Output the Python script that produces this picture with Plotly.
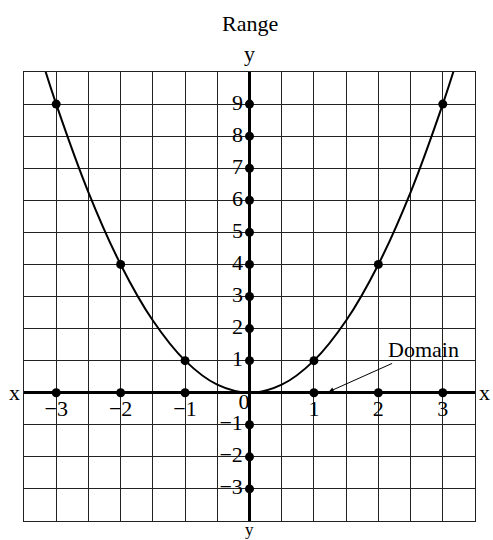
import plotly.graph_objects as go

curve_x = [-3.25, -3, -2.5, -2, -1.5, -1, -0.5, 0, 0.5, 1, 1.5, 2, 2.5, 3, 3.25]
curve_y = [10.56, 9, 6.25, 4, 2.25, 1, 0.25, 0, 0.25, 1, 2.25, 4, 6.25, 9, 10.56]

# Plotted points on the parabola
pt_x = [-3, -2, -1, 1, 2, 3]
pt_y = [9, 4, 1, 1, 4, 9]

# Domain points on the x axis
dom_x = [-3, -2, -1, 1, 2, 3]
dom_labels = ["\u22123", "\u22122", "\u22121", "1", "2", "3"]

# Range points on the y axis
rng_y = [9, 8, 7, 6, 5, 4, 3, 2, 1, -1, -2, -3]
rng_labels = ["9", "8", "7", "6", "5", "4", "3", "2", "1", "\u22121", "\u22122", "\u22123"]

FONT = "Liberation Serif"
FS = 22

fig = go.Figure()

fig.add_trace(go.Scatter(x=curve_x, y=curve_y, mode="lines",
                         line=dict(color="black", width=2, shape="spline", smoothing=1.0),
                         hoverinfo="skip"))
fig.add_trace(go.Scatter(x=pt_x, y=pt_y, mode="markers",
                         marker=dict(color="black", size=9)))
fig.add_trace(go.Scatter(x=dom_x, y=[0] * len(dom_x), mode="markers+text",
                         text=dom_labels, textposition="bottom center",
                         textfont=dict(family=FONT, size=FS, color="black"),
                         marker=dict(color="black", size=9)))
fig.add_trace(go.Scatter(x=[0] * len(rng_y), y=rng_y, mode="markers+text",
                         text=rng_labels, textposition="middle left",
                         textfont=dict(family=FONT, size=FS, color="black"),
                         marker=dict(color="black", size=9)))
fig.add_trace(go.Scatter(x=[0], y=[0], mode="text", text=["0"],
                         textposition="bottom left",
                         textfont=dict(family=FONT, size=FS, color="black")))

ann = [
    dict(text="Range", x=0.5, y=1, xref="paper", yref="paper", yanchor="bottom",
         yshift=34, showarrow=False, font=dict(family=FONT, size=FS, color="black")),
    dict(text="y", x=0.5, y=1, xref="paper", yref="paper", yanchor="bottom",
         yshift=4, showarrow=False, font=dict(family=FONT, size=FS, color="black")),
    dict(text="y", x=0.5, y=0, xref="paper", yref="paper", yanchor="top",
         yshift=3, showarrow=False, font=dict(family=FONT, size=17, color="black")),
    dict(text="x", x=0, y=0, xref="paper", yref="y", xanchor="right",
         xshift=-2, showarrow=False, font=dict(family=FONT, size=FS, color="black")),
    dict(text="x", x=1, y=0, xref="paper", yref="y", xanchor="left",
         xshift=2, showarrow=False, font=dict(family=FONT, size=FS, color="black")),
    dict(text="Domain", x=1.23, y=0.03, xref="x", yref="y",
         ax=2.7, ay=1.35, axref="x", ayref="y",
         showarrow=True, arrowhead=2, arrowsize=1, arrowwidth=1, arrowcolor="black",
         font=dict(family=FONT, size=FS, color="black")),
]

fig.update_layout(
    width=493, height=540,
    margin=dict(l=24, r=18, t=72, b=19),
    paper_bgcolor="white", plot_bgcolor="white",
    showlegend=False,
    annotations=ann,
    xaxis=dict(range=[-3.5, 3.5], dtick=0.5, tick0=0, showgrid=True, gridcolor="#222",
               gridwidth=1, showticklabels=False, ticks="", zeroline=True,
               zerolinecolor="black", zerolinewidth=2.5, showline=True, linecolor="#222",
               linewidth=1, mirror=True, fixedrange=True),
    yaxis=dict(range=[-4, 10], dtick=1, tick0=0, showgrid=True, gridcolor="#222",
               gridwidth=1, showticklabels=False, ticks="", zeroline=True,
               zerolinecolor="black", zerolinewidth=2.5, showline=True, linecolor="#222",
               linewidth=1, mirror=True, fixedrange=True),
)

fig.write_html("out.html", config={"displayModeBar": False},
               post_script="document.body.style.margin='0px';")
